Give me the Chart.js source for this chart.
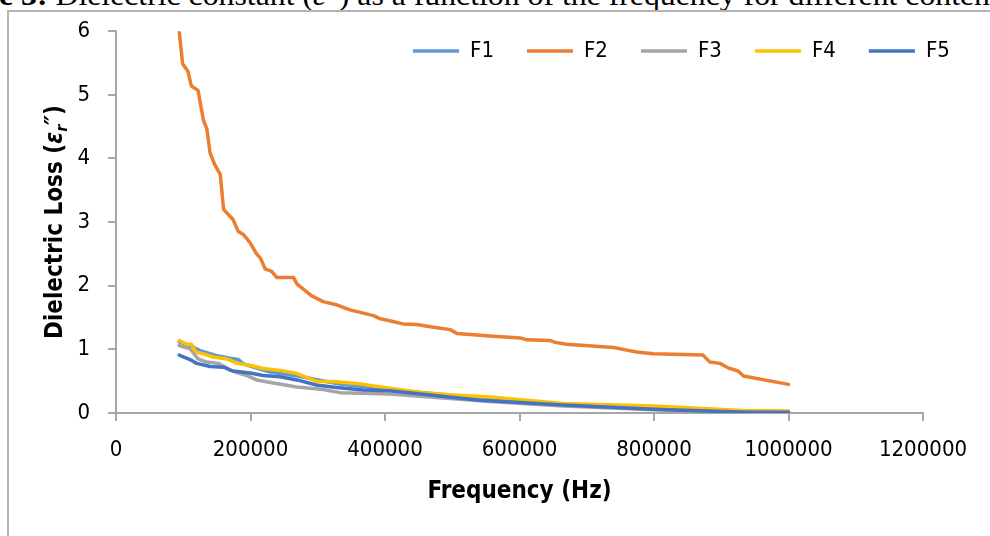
<!DOCTYPE html>
<html>
<head>
<meta charset="utf-8">
<script src="https://cdn.jsdelivr.net/npm/chart.js@4.4.1/dist/chart.umd.min.js"></script>
<style>
  html, body { margin: 0; padding: 0; background: #fff; }
  body { width: 990px; height: 536px; position: relative; overflow: hidden; }
  #cap {
    position: absolute; left: -1px; top: -20px; white-space: nowrap;
    font-family: "Liberation Serif", "Times New Roman", serif; font-size: 30px; line-height: 30px;
    transform-origin: 0 0; color: #000;
  }
  #box {
    position: absolute; left: 7px; top: 10px; width: 1100px; height: 700px;
    border: 2px solid #b4b4b4; background: #fff;
  }
  #chart { position: absolute; left: 0; top: 0; }
</style>
</head>
<body>
<div id="cap"><span id="capMain"><b>e 3:</b> Dielectric constant (<i>ε″</i>) as a function of the frequency for different conten</span>ts</div>
<div id="box"></div>
<canvas id="chart" width="990" height="536"></canvas>
<script>
var FONT = '"Liberation Sans Narrow", "Arial Narrow", "DejaVu Sans Condensed", sans-serif'

var seriesNames = ['F1', 'F2', 'F3', 'F4', 'F5']
var seriesColours = ['#5B9BD5', '#ED7D31', '#A5A5A5', '#FFC000', '#4472C4']

// frequency (Hz) and dielectric loss
var f1Freq = [94000, 110000, 125000, 150000, 170000, 182000, 190000, 224000, 232000, 270000, 330000, 407000, 556000, 665000, 799000, 932000, 1000000]
var f1Loss = [1.12, 1.06, 0.98, 0.90, 0.86, 0.84, 0.77, 0.66, 0.64, 0.58, 0.46, 0.37, 0.22, 0.14, 0.09, 0.03, 0.02]

var f2Freq = [94000, 99000, 107000, 112000, 122000, 130000, 135000, 140000, 147000, 155000, 160000, 174000, 182000, 189000, 199000, 209000, 215000, 222000, 231000, 239000, 264000, 269000, 278000, 291000, 308000, 328000, 348000, 383000, 393000, 407000, 427000, 447000, 477000, 497000, 507000, 556000, 601000, 611000, 645000, 653000, 670000, 740000, 754000, 774000, 799000, 873000, 883000, 898000, 910000, 925000, 933000, 1000000]
var f2Loss = [6.0, 5.49, 5.37, 5.14, 5.07, 4.60, 4.47, 4.08, 3.90, 3.75, 3.20, 3.04, 2.85, 2.81, 2.68, 2.50, 2.43, 2.26, 2.23, 2.13, 2.13, 2.03, 1.95, 1.84, 1.75, 1.70, 1.62, 1.53, 1.48, 1.45, 1.40, 1.39, 1.34, 1.31, 1.25, 1.21, 1.18, 1.15, 1.14, 1.11, 1.08, 1.03, 1.00, 0.96, 0.93, 0.91, 0.80, 0.78, 0.71, 0.66, 0.58, 0.45]

var f3Freq = [94000, 110000, 122000, 135000, 152000, 170000, 194000, 209000, 234000, 269000, 308000, 333000, 407000, 556000, 665000, 799000, 932000, 1000000]
var f3Loss = [1.06, 1.01, 0.85, 0.80, 0.78, 0.67, 0.59, 0.52, 0.47, 0.41, 0.37, 0.32, 0.30, 0.18, 0.11, 0.05, 0.01, 0.0]

var f4Freq = [94000, 105000, 112000, 119000, 130000, 145000, 165000, 180000, 199000, 219000, 244000, 269000, 298000, 328000, 368000, 407000, 457000, 507000, 556000, 665000, 799000, 932000, 1000000]
var f4Loss = [1.14, 1.08, 1.08, 0.96, 0.93, 0.88, 0.85, 0.78, 0.75, 0.70, 0.67, 0.62, 0.50, 0.49, 0.45, 0.39, 0.32, 0.28, 0.25, 0.15, 0.11, 0.04, 0.03]

var f5Freq = [94000, 110000, 120000, 140000, 160000, 174000, 199000, 219000, 244000, 269000, 298000, 328000, 368000, 407000, 541000, 665000, 799000, 937000, 1000000]
var f5Loss = [0.91, 0.84, 0.78, 0.73, 0.72, 0.66, 0.63, 0.59, 0.57, 0.52, 0.44, 0.40, 0.36, 0.35, 0.20, 0.125, 0.06, 0.01, 0.01]

var xTicks = [0, 200000, 400000, 600000, 800000, 1000000, 1200000]
var yTicks = [0, 1, 2, 3, 4, 5, 6]

var allFreq = [f1Freq, f2Freq, f3Freq, f4Freq, f5Freq]
var allLoss = [f1Loss, f2Loss, f3Loss, f4Loss, f5Loss]

// fit the caption line across the page
var cap = document.getElementById('cap')
var capW = document.getElementById('capMain').getBoundingClientRect().width
cap.style.transform = 'scaleX(' + (991 / capW) + ')'

function pairUp (freq, loss) {
  return freq.map(function (f, i) { return { x: f, y: loss[i] } })
}

var datasets = seriesNames.map(function (name, i) {
  return {
    label: name,
    data: pairUp(allFreq[i], allLoss[i]),
    borderColor: seriesColours[i],
    backgroundColor: seriesColours[i],
    borderWidth: 3.5,
    pointRadius: 0,
    tension: 0,
    borderJoinStyle: 'round',
    borderCapStyle: 'round',
    order: seriesNames.length - i // F5 on top, like Excel
  }
})

var axisGrey = '#a6a6a6'
var PLOT_TOP = 29
var TICK_FONT = 22
var LEGEND_X = 413
var LEGEND_Y = 51
var LEGEND_STEP = 114
var LEGEND_BOX = 46

// spacing so every legend entry starts LEGEND_STEP after the previous one
var mctx = document.createElement('canvas').getContext('2d')
mctx.font = TICK_FONT + 'px ' + FONT
var labelW = mctx.measureText('F1').width
var LEGEND_PAD = Math.round(LEGEND_STEP - LEGEND_BOX - TICK_FONT / 2 - labelW)

// Excel puts the legend inside the plot area, so move it there after layout
var legendSpot = {
  id: 'legendSpot',
  afterLayout: function (chart) {
    var lg = chart.legend
    lg.left = LEGEND_X - LEGEND_PAD
    lg.right = lg.left + lg.width
    lg.top = LEGEND_Y - LEGEND_PAD - TICK_FONT / 2
    lg.bottom = lg.top + lg.height
  }
}

// y title with italic epsilon and subscript r
var yTitle = {
  id: 'yTitle',
  afterDraw: function (chart) {
    var ctx = chart.ctx
    var area = chart.chartArea
    var parts = [
      { t: 'Dielectric Loss (', f: 'bold 24px ' + FONT, dy: 0 },
      { t: 'ε', f: 'italic bold 24px ' + FONT, dy: 0 },
      { t: 'r', f: 'italic bold 16px ' + FONT, dy: 5 },
      { t: '″', f: 'italic bold 24px ' + FONT, dy: 0 },
      { t: ')', f: 'bold 24px ' + FONT, dy: 0 }
    ]
    ctx.save()
    var total = 0
    parts.forEach(function (p) {
      ctx.font = p.f
      p.w = ctx.measureText(p.t).width
      total += p.w
    })
    ctx.translate(62, (area.top + area.bottom) / 2)
    ctx.rotate(-Math.PI / 2)
    ctx.fillStyle = '#000'
    ctx.textBaseline = 'alphabetic'
    var x = -total / 2
    parts.forEach(function (p) {
      ctx.font = p.f
      ctx.fillText(p.t, x, p.dy)
      x += p.w
    })
    ctx.restore()
  }
}

var chart = new Chart(document.getElementById('chart'), {
  type: 'line',
  data: { datasets: datasets },
  plugins: [legendSpot, yTitle],
  options: {
    responsive: false,
    animation: false,
    events: [],
    layout: { padding: { left: 0, right: 67, top: 0, bottom: 0 } },
    plugins: {
      tooltip: { enabled: false },
      legend: {
        position: 'top',
        align: 'start',
        labels: {
          font: { family: FONT, size: TICK_FONT },
          color: '#000',
          boxWidth: LEGEND_BOX,
          boxHeight: 3.5,
          padding: LEGEND_PAD,
          sort: function (a, b) { return a.datasetIndex - b.datasetIndex },
          generateLabels: function (c) {
            var items = Chart.defaults.plugins.legend.labels.generateLabels(c)
            items.forEach(function (it) {
              it.fillStyle = it.strokeStyle
              it.lineWidth = 0
            })
            return items
          }
        }
      }
    },
    scales: {
      x: {
        type: 'linear',
        min: xTicks[0],
        max: xTicks[xTicks.length - 1],
        afterFit: function (scale) { scale.height = 123 },
        afterBuildTicks: function (scale) {
          scale.ticks = xTicks.map(function (v) { return { value: v } })
        },
        ticks: {
          font: { family: FONT, size: TICK_FONT },
          color: '#000',
          padding: 16,
          maxRotation: 0,
          autoSkip: false,
          callback: function (v) { return String(v) }
        },
        grid: { drawOnChartArea: false, drawTicks: true, tickLength: 8, color: axisGrey, lineWidth: 2 },
        border: { color: axisGrey, width: 2 },
        title: {
          display: true,
          text: 'Frequency (Hz)',
          font: { family: FONT, size: 24, weight: 'bold' },
          color: '#000',
          padding: { top: 0, bottom: 30 }
        }
      },
      y: {
        min: yTicks[0],
        max: yTicks[yTicks.length - 1],
        afterFit: function (scale) { scale.width = 116 },
        afterBuildTicks: function (scale) {
          scale.ticks = yTicks.map(function (v) { return { value: v } })
        },
        ticks: {
          font: { family: FONT, size: TICK_FONT },
          color: '#000',
          padding: 18
        },
        grid: { drawOnChartArea: false, drawTicks: true, tickLength: 8, color: axisGrey, lineWidth: 2 },
        border: { color: axisGrey, width: 2 }
      }
    }
  }
})

// the legend still reserves a band at the top; pull the plot back up to PLOT_TOP
chart.options.layout.padding.top = PLOT_TOP - chart.legend.height
chart.update()
</script>
</body>
</html>
